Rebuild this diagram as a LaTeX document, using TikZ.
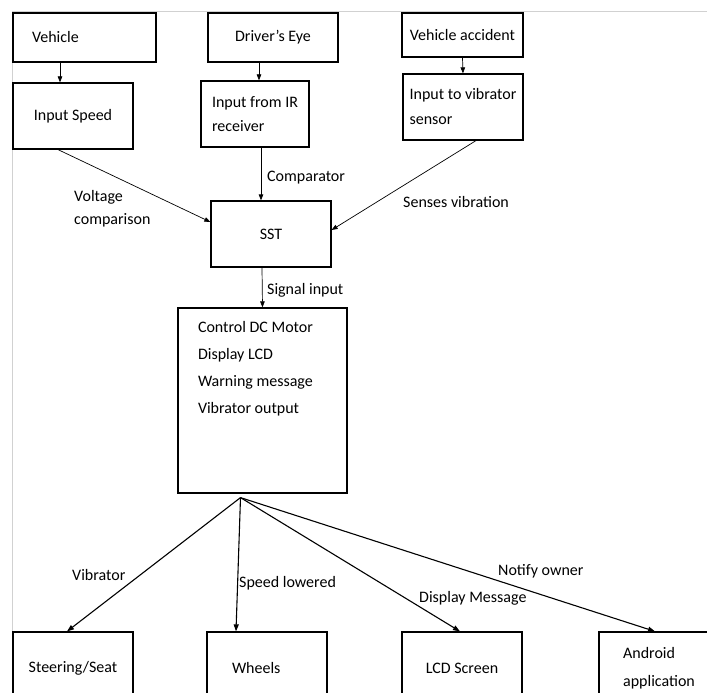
\documentclass[tikz,border=0pt]{standalone}
\usepackage{fontspec}
\setmainfont{Carlito}
\usetikzlibrary{arrows.meta}

\begin{document}
\begin{tikzpicture}[x=1pt, y=-1pt,
    font=\fontsize{16}{19.5}\selectfont,
    caja/.style={draw, line width=1.2pt, minimum width=120pt, minimum height=66pt, inner sep=0pt, align=left},
    etiq/.style={anchor=west, inner sep=0pt, align=left},
    flecha/.style={-{Triangle[length=6pt,width=4.5pt]}, line width=0.7pt},
    rama/.style={-{Triangle[length=7pt,width=5pt]}, line width=1.1pt}]

    \useasboundingbox (0,0) rectangle (707,693);
    % Marco
    \draw[black!18, line width=1pt] (12,693) -- (12,12) -- (707,12);

    % Fila superior
    \node[caja, minimum width=143pt, minimum height=49pt, text width=105pt, inner xsep=19pt] (veh) at (84.5,37.5) {Vehicle};
    \node[caja, minimum width=130pt, minimum height=49pt] (ojo) at (273,37.5) {Driver’s Eye};
    \node[caja, minimum width=121pt, minimum height=44pt] (acc) at (462.5,35) {Vehicle accident};

    \node[caja] (vel) at (73,116) {Input Speed};
    \node[caja, minimum width=108pt] (ir) at (255,114) {Input from IR\\[4.5pt]receiver};
    \node[caja] (vib) at (463,107) {Input to vibrator\\[5.5pt]sensor};

    \draw[flecha] ([xshift=-24.5pt]veh.south) -- ([xshift=-13pt]vel.north);
    \draw[flecha] ([xshift=-14pt]ojo.south) -- ([xshift=4pt]ir.north);
    \draw[flecha] (acc.south) -- (vib.north);

    % SST
    \node[caja] (sst) at (271,234) {SST};
    \draw[flecha] ([xshift=-15pt]vel.south) -- ([yshift=12pt]sst.west);
    \draw[flecha] ([xshift=6pt]ir.south) -- ([xshift=-10pt]sst.north);
    \draw[flecha] ([xshift=13pt]vib.south) -- ([yshift=4pt]sst.east);
    \node[etiq] (volt) at (74,208.5) {Voltage\\[3.5pt]comparison};
    \node[etiq] (comp) at (267,178) {Comparator};
    \node[etiq] (sens) at (403,202) {Senses vibration};

    % Control
    \node[caja, inner xsep=20pt] (ctrl) at (262.5,400.5)
        {\parbox[c][185pt][t]{129pt}{\vspace*{13pt}Control DC Motor\\[7.5pt]Display LCD\\[7.5pt]Warning message\\[7.5pt]Vibrator output}};
    \draw[flecha] ([xshift=-9pt]sst.south) -- (ctrl.north);
    \node[etiq] (sig) at (267,290) {Signal input};

    % Salidas
    \node[caja, minimum height=72pt] (asiento) at (73,668) {Steering/Seat};
    \node[caja, minimum height=72pt, text width=70pt, inner xsep=25pt] (ruedas) at (267,668) {Wheels};
    \node[caja, minimum height=72pt] (lcd) at (462,668) {LCD Screen};
    \node[caja, minimum height=72pt] (app) at (659,668) {Android\\[8.5pt]application};

    \coordinate (o) at ([xshift=-22pt, yshift=-4pt]ctrl.south);
    \draw[rama] (o) -- ([xshift=-6pt]asiento.north);
    \draw[rama] (o) -- ([xshift=-31pt]ruedas.north);
    \draw[rama] (o) -- ([xshift=-2pt]lcd.north);
    \draw[rama] (o) -- ([xshift=-4pt]app.north);
    \node[etiq] (lvib) at (72,575) {Vibrator};
    \node[etiq] (lvel) at (239,583) {Speed lowered};
    \node[etiq] (lmsg) at (419,598) {Display Message};
    \node[etiq] (lown) at (498,571) {Notify owner};
\end{tikzpicture}
\end{document}
